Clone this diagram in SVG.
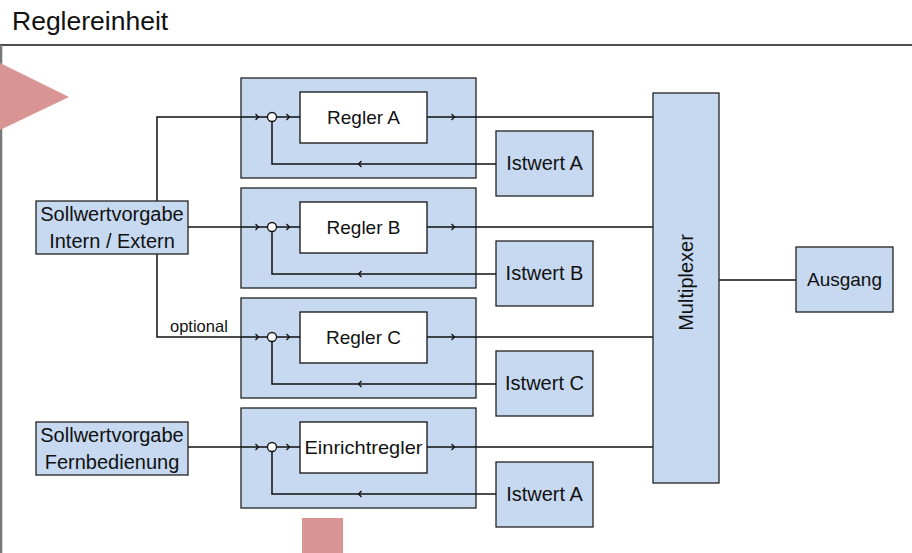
<svg xmlns="http://www.w3.org/2000/svg" width="912" height="553" viewBox="0 0 912 553">
<style>
text{font-family:"Liberation Sans",Arial,sans-serif;fill:#111;}
.t{font-size:19px;text-anchor:middle;}
.t2{font-size:20px;text-anchor:middle;}
.grp{fill:#C6D9F0;stroke:#222;stroke-width:1.3;}
.blue{fill:#C6D9F0;stroke:#222;stroke-width:1.3;}
.white{fill:#fff;stroke:#111;stroke-width:1.3;}
.ln{fill:none;stroke:#111;stroke-width:1.5;}
.chev{fill:none;stroke:#111;stroke-width:1.3;}
</style>
<defs>
<path id="chR" class="chev" d="M-2.5,-3 L0.5,0 L-2.5,3"/>
<path id="chL" class="chev" d="M2.5,-3 L-0.5,0 L2.5,3"/>
</defs>
<rect width="912" height="553" fill="#fff"/>
<text x="12" y="30" style="font-size:26.5px">Reglereinheit</text>
<line x1="0" y1="45" x2="912" y2="45" stroke="#111" stroke-width="1.5"/>
<line x1="1" y1="45" x2="1" y2="553" stroke="#777" stroke-width="2.5"/>
<polygon points="0,63 69,97 0,130" fill="#D99594"/>
<rect x="302" y="518" width="41" height="35" fill="#D99594"/>

<g id="group-a"><rect class="grp" x="241" y="78" width="235" height="100"/></g>
<g id="group-b"><rect class="grp" x="241" y="188" width="235" height="100"/></g>
<g id="group-c"><rect class="grp" x="241" y="298" width="235" height="100"/></g>
<g id="group-d"><rect class="grp" x="241" y="408" width="235" height="100"/></g>

<g id="connectors">
<path class="ln" d="M188,227 H267.5"/>
<path class="ln" d="M267.5,117 H157 V337 H267.5"/>
<path class="ln" d="M188,447 H267.5"/>
<path class="ln" d="M276.5,117 H300 M427,117 H653 M496,164 H272 V121.5"/>
<path class="ln" d="M276.5,227 H300 M427,227 H653 M496,274 H272 V231.5"/>
<path class="ln" d="M276.5,337 H300 M427,337 H653 M496,384 H272 V341.5"/>
<path class="ln" d="M276.5,447 H300 M427,447 H653 M496,494 H272 V451.5"/>
<path class="ln" d="M719,280 H796"/>
<use href="#chR" x="258" y="117"/><use href="#chR" x="289" y="117"/><use href="#chR" x="454" y="117"/><use href="#chL" x="359" y="164"/>
<use href="#chR" x="258" y="227"/><use href="#chR" x="289" y="227"/><use href="#chR" x="454" y="227"/><use href="#chL" x="359" y="274"/>
<use href="#chR" x="258" y="337"/><use href="#chR" x="289" y="337"/><use href="#chR" x="454" y="337"/><use href="#chL" x="359" y="384"/>
<use href="#chR" x="258" y="447"/><use href="#chR" x="289" y="447"/><use href="#chR" x="454" y="447"/><use href="#chL" x="359" y="494"/>
<text x="170" y="332" style="font-size:16.5px">optional</text>
</g>

<g id="sum-a"><circle cx="272" cy="117" r="4.5" fill="#fff" stroke="#111" stroke-width="1.3"/></g>
<g id="sum-b"><circle cx="272" cy="227" r="4.5" fill="#fff" stroke="#111" stroke-width="1.3"/></g>
<g id="sum-c"><circle cx="272" cy="337" r="4.5" fill="#fff" stroke="#111" stroke-width="1.3"/></g>
<g id="sum-d"><circle cx="272" cy="447" r="4.5" fill="#fff" stroke="#111" stroke-width="1.3"/></g>

<g id="regler-a"><rect class="white" x="300" y="92" width="127" height="51"/><text class="t" x="363.5" y="124">Regler A</text></g>
<g id="regler-b"><rect class="white" x="300" y="202" width="127" height="51"/><text class="t" x="363.5" y="234">Regler B</text></g>
<g id="regler-c"><rect class="white" x="300" y="312" width="127" height="51"/><text class="t" x="363.5" y="344">Regler C</text></g>
<g id="einrichtregler"><rect class="white" x="300" y="422" width="127" height="51"/><text class="t" x="363.5" y="454" textLength="118" lengthAdjust="spacingAndGlyphs">Einrichtregler</text></g>

<g id="istwert-a"><rect class="blue" x="496" y="131" width="97" height="65"/><text class="t2" x="544.5" y="170">Istwert A</text></g>
<g id="istwert-b"><rect class="blue" x="496" y="241" width="97" height="65"/><text class="t2" x="544.5" y="280">Istwert B</text></g>
<g id="istwert-c"><rect class="blue" x="496" y="351" width="97" height="65"/><text class="t2" x="544.5" y="390">Istwert C</text></g>
<g id="istwert-a2"><rect class="blue" x="496" y="462" width="97" height="65"/><text class="t2" x="544.5" y="501">Istwert A</text></g>

<g id="sollwert-intern"><rect class="blue" x="36" y="201" width="152" height="53"/><text class="t2" x="112" y="221">Sollwertvorgabe</text><text class="t2" x="112" y="248">Intern / Extern</text></g>
<g id="sollwert-fern"><rect class="blue" x="36" y="422" width="152" height="53"/><text class="t2" x="112" y="442">Sollwertvorgabe</text><text class="t2" x="112" y="469">Fernbedienung</text></g>

<g id="multiplexer"><rect class="blue" x="653" y="93" width="66" height="390"/><text class="t2" transform="translate(686,282.5) rotate(-90)" x="0" y="7">Multiplexer</text></g>
<g id="ausgang"><rect class="blue" x="796" y="247" width="97" height="65"/><text class="t" x="844.5" y="286">Ausgang</text></g>
</svg>
